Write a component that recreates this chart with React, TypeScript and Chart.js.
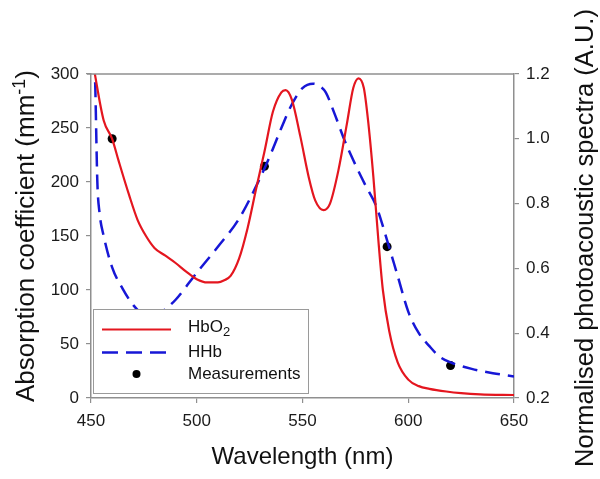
import { useEffect, useRef } from "react";
import { Chart, registerables } from "chart.js";

Chart.register(...registerables);

// ---- Data ----
const hbo2Wavelengths = [450, 452, 456, 460, 463, 468, 472, 476, 480, 485, 490, 495, 500, 505, 510, 513, 516, 520, 524, 528, 532, 536, 540, 542, 545, 549, 553, 556, 560, 563, 567, 571, 574, 576.5, 579, 581, 583.5, 586, 588, 591, 595, 600, 605, 610, 618, 625, 634, 650];
const hbo2Values = [322, 298, 257, 240, 220, 188, 165, 150, 139, 132, 125, 117, 110, 107, 107, 109, 113, 129, 157, 193, 228, 265, 283, 285, 276, 242, 204, 183, 174, 180, 211, 254, 287, 296, 287, 257, 205, 143, 100, 62, 33, 17, 11, 8.5, 6, 4.5, 3.4, 2.8];

const hhbWavelengths = [450, 451, 452, 453, 454, 456, 460, 465, 470, 475, 480, 485, 490, 500, 510, 520, 530, 535, 540, 545, 550, 555, 558, 561, 565, 570, 575, 580, 585, 590, 595, 600, 605, 610, 615, 620, 630, 640, 650];
const hhbValues = [420, 350, 290, 200, 172, 150, 121, 101, 86, 77, 76, 82, 91, 116, 140, 166, 204, 226, 250, 272, 287, 291, 289, 283, 264, 238, 216, 196, 177, 146, 113, 80, 60, 48, 38, 33, 27, 23, 20];

const measurementWavelengths = [460, 532, 590, 620];
const measurementValues = [1.0, 0.915, 0.667, 0.3];

const seriesLabels = ["HbO", "HHb", "Measurements"];

const FONT = "'Liberation Sans', Arial, Helvetica, sans-serif";
const AXIS_GRAY = "#8f8f8f";
const RED = "#e4161f";
const BLUE = "#1717d6";

const titlesPlugin = {
  id: "axisTitles",
  afterDraw(chart: any) {
    const { ctx, chartArea } = chart;
    const cy = (chartArea.top + chartArea.bottom) / 2;
    ctx.save();
    ctx.fillStyle = "#111";
    // bottom title
    ctx.font = `24px ${FONT}`;
    ctx.textAlign = "center";
    ctx.textBaseline = "alphabetic";
    ctx.fillText("Wavelength (nm)", (chartArea.left + chartArea.right) / 2, 464);

    // left title with superscript
    const main = "Absorption coefficient (mm";
    const sup = "-1";
    const close = ")";
    ctx.font = `26px ${FONT}`;
    const wMain = ctx.measureText(main).width;
    const wClose = ctx.measureText(close).width;
    ctx.font = `18px ${FONT}`;
    const wSup = ctx.measureText(sup).width;
    const total = wMain + wSup + wClose;
    ctx.save();
    ctx.translate(34, cy);
    ctx.rotate(-Math.PI / 2);
    ctx.textAlign = "left";
    let x = -total / 2;
    ctx.font = `26px ${FONT}`;
    ctx.fillText(main, x, 0);
    x += wMain;
    ctx.font = `18px ${FONT}`;
    ctx.fillText(sup, x, -9);
    x += wSup;
    ctx.font = `26px ${FONT}`;
    ctx.fillText(close, x, 0);
    ctx.restore();

    // right title
    ctx.save();
    ctx.translate(593, cy + 2);
    ctx.rotate(-Math.PI / 2);
    ctx.font = `25.5px ${FONT}`;
    ctx.textAlign = "center";
    ctx.fillText("Normalised photoacoustic spectra (A.U.)", 0, 0);
    ctx.restore();

    // top border of the plot box
    ctx.strokeStyle = AXIS_GRAY;
    ctx.lineWidth = 1.5;
    ctx.beginPath();
    ctx.moveTo(chartArea.left - 4, chartArea.top);
    ctx.lineTo(chartArea.right, chartArea.top);
    ctx.stroke();
    ctx.restore();
  },
};

const legendPlugin = {
  id: "boxLegend",
  afterDatasetsDraw(chart: any) {
    const { ctx, chartArea } = chart;
    const left = chartArea.left + 2;
    const bottom = chartArea.bottom - 5;
    const w = 215;
    const h = 84;
    const top = bottom - h;
    ctx.save();
    ctx.fillStyle = "#ffffff";
    ctx.fillRect(left, top, w, h);
    ctx.strokeStyle = "#9a9a9a";
    ctx.lineWidth = 1;
    ctx.strokeRect(left + 0.5, top + 0.5, w, h);

    const lx0 = left + 9;
    const lx1 = left + 78;
    const tx = left + 95;
    // HbO2
    ctx.strokeStyle = RED;
    ctx.lineWidth = 2.2;
    ctx.setLineDash([]);
    ctx.beginPath();
    ctx.moveTo(lx0, top + 20.5);
    ctx.lineTo(lx1, top + 20.5);
    ctx.stroke();
    // HHb
    ctx.strokeStyle = BLUE;
    ctx.lineWidth = 2.5;
    ctx.setLineDash([16, 8]);
    ctx.beginPath();
    ctx.moveTo(lx0, top + 43.5);
    ctx.lineTo(lx1, top + 43.5);
    ctx.stroke();
    ctx.setLineDash([]);
    // Measurements
    ctx.fillStyle = "#000";
    ctx.beginPath();
    ctx.arc(left + 43.5, top + 65, 4, 0, Math.PI * 2);
    ctx.fill();

    ctx.fillStyle = "#111";
    ctx.font = `17px ${FONT}`;
    ctx.textAlign = "left";
    ctx.textBaseline = "middle";
    ctx.fillText(seriesLabels[0], tx, top + 18);
    const wHbO = ctx.measureText(seriesLabels[0]).width;
    ctx.font = `13px ${FONT}`;
    ctx.fillText("2", tx + wHbO, top + 23);
    ctx.font = `17px ${FONT}`;
    ctx.fillText(seriesLabels[1], tx, top + 43.5);
    ctx.fillText(seriesLabels[2], tx, top + 65.5);
    ctx.restore();
  },
};

export default function App() {
  const canvasRef = useRef<HTMLCanvasElement | null>(null);

  useEffect(() => {
    const canvas = canvasRef.current;
    if (!canvas) return;

    const hbo2Data = hbo2Wavelengths.map((x, i) => ({ x, y: hbo2Values[i] }));
    const hhbData = hhbWavelengths.map((x, i) => ({ x, y: hhbValues[i] }));
    const measData = measurementWavelengths.map((x, i) => ({ x, y: measurementValues[i] }));

    const tickFont = { family: FONT, size: 17 };

    const chart = new Chart(canvas, {
      type: "line",
      data: {
        datasets: [
          {
            label: "HbO2",
            data: hbo2Data,
            borderColor: RED,
            borderWidth: 2.2,
            pointRadius: 0,
            cubicInterpolationMode: "monotone",
            yAxisID: "y",
          },
          {
            label: "HHb",
            data: hhbData,
            borderColor: BLUE,
            borderWidth: 2.5,
            borderDash: [15, 8],
            pointRadius: 0,
            cubicInterpolationMode: "monotone",
            yAxisID: "y",
          },
          {
            label: "Measurements",
            data: measData,
            showLine: false,
            pointRadius: 4.5,
            pointBackgroundColor: "#000",
            pointBorderColor: "#000",
            pointBorderWidth: 0,
            yAxisID: "y1",
          },
        ],
      },
      options: {
        responsive: false,
        animation: false,
        events: [],
        layout: { padding: { top: 74, left: 0, right: 0, bottom: 0 } },
        plugins: {
          legend: { display: false },
          tooltip: { enabled: false },
          title: { display: false },
        },
        scales: {
          x: {
            type: "linear",
            min: 450,
            max: 650,
            ticks: { stepSize: 50, font: tickFont, color: "#1a1a1a", padding: 8 },
            grid: { drawOnChartArea: false, drawTicks: true, tickLength: 5, color: AXIS_GRAY, lineWidth: 1.2 },
            border: { display: true, color: AXIS_GRAY, width: 1.5 },
            afterFit: (s: any) => { s.height = 81; },
          },
          y: {
            type: "linear",
            position: "left",
            min: 0,
            max: 300,
            ticks: { stepSize: 50, font: tickFont, color: "#1a1a1a", padding: 7 },
            grid: { drawOnChartArea: false, drawTicks: true, tickLength: 5, color: AXIS_GRAY, lineWidth: 1.2 },
            border: { display: true, color: AXIS_GRAY, width: 1.5 },
            afterFit: (s: any) => { s.width = 91; },
          },
          y1: {
            type: "linear",
            position: "right",
            min: 0.2,
            max: 1.2,
            ticks: {
              stepSize: 0.2,
              font: tickFont,
              color: "#1a1a1a",
              padding: 7,
              callback: (v: any) => Number(v).toFixed(1),
            },
            grid: { drawOnChartArea: false, drawTicks: true, tickLength: 5, color: AXIS_GRAY, lineWidth: 1.2 },
            border: { display: true, color: AXIS_GRAY, width: 1.5 },
            afterFit: (s: any) => { s.width = 86; },
          },
        },
      },
      plugins: [legendPlugin, titlesPlugin],
    } as any);

    return () => chart.destroy();
  }, []);

  return (
    <canvas
      ref={canvasRef}
      width={600}
      height={479}
      style={{ position: "absolute", left: 0, top: 0, width: 600, height: 479, background: "#fff" }}
    />
  );
}
